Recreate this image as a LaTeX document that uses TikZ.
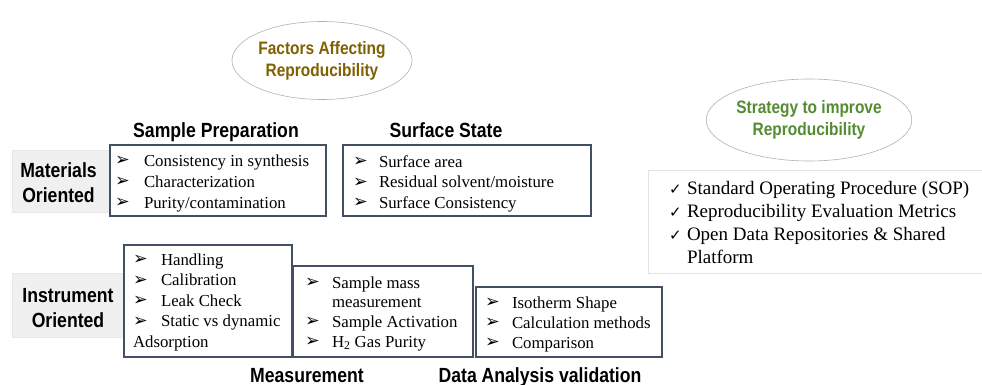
\documentclass[tikz,border=0pt]{standalone}
\usepackage{fontspec}
\setmainfont{Liberation Serif}
\newfontfamily\hsans{Liberation Sans}[FakeStretch=0.86]
\newfontfamily\djfont{DejaVu Sans}
\usetikzlibrary{shapes.geometric}
\definecolor{boxc}{RGB}{67,80,100}
\definecolor{goldtxt}{RGB}{128,96,0}
\definecolor{leaftxt}{RGB}{84,140,50}
\pgfdeclareradialshading{ellshade}{\pgfpoint{0bp}{0bp}}{color(0bp)=(white); color(30bp)=(white); color(50bp)=(gray!50)}
\newcommand\blt{\raisebox{0.5pt}{\djfont\fontsize{17.5}{17.5}\selectfont ➢}}
\newcommand\chk{{\djfont\fontsize{15}{15}\selectfont ✓}}
\begin{document}
\begin{tikzpicture}[x=1pt,y=-1pt,
  listbox/.style={draw=boxc, line width=1.1pt, fill=white, inner sep=0},
  graybox/.style={fill=gray!12, draw=gray!18, line width=0.5pt, inner sep=0},
  lbl/.style={font=\hsans\bfseries\fontsize{20.5}{25.5}\selectfont, align=center, inner sep=0},
  head/.style={font=\hsans\bfseries\fontsize{20.5}{24}\selectfont, anchor=base, inner sep=0},
  ellip/.style={ellipse, draw=gray!60, line width=0.6pt, shading=ellshade,
    inner sep=0, align=center, font=\hsans\bfseries\fontsize{18}{22}\selectfont},
  listtxt/.style={anchor=base west, inner sep=0, outer sep=0}
]
\useasboundingbox (0,0) rectangle (982,385);

% ellipses
\node[ellip, minimum width=172pt, minimum height=78pt, text=goldtxt] (factors) at (322,60.5)
  {Factors Affecting\\Reproducibility};
\node[ellip, minimum width=186pt, minimum height=82pt, text=leaftxt] (strategy) at (809,120)
  {Strategy to improve\\Reproducibility};

% headings
\node[head] (hsample) at (216,137) {Sample Preparation};
\node[head] (hsurface) at (446,137) {Surface State};
\node[head] (hmeas) at (307,382) {Measurement};
\node[head] (hdata) at (540,382) {Data Analysis validation};

% gray labels
\node[graybox, minimum width=100pt, minimum height=62pt] (matbox) at (62,181) {};
\node[lbl] (mattxt) at (58.5,182.6) {Materials\\Oriented};
\node[graybox, minimum width=112pt, minimum height=64pt] (instbox) at (68,305) {};
\node[lbl] (insttxt) at (68,308) {Instrument\\Oriented};

% boxes
\node[listbox, minimum width=216pt, minimum height=71pt] (samplebox) at (218,180.5) {};
\node[listtxt, font=\fontsize{16.8}{21.2}\selectfont] (samplelist) at (115,166)
  {\begin{tabular}[t]{@{}p{29pt}@{}l@{}}
   \blt & Consistency in synthesis\\
   \blt & Characterization\\
   \blt & Purity/contamination
   \end{tabular}};

\node[listbox, minimum width=248pt, minimum height=71pt] (surfbox) at (467,180.5) {};
\node[listtxt, font=\fontsize{16.8}{20.6}\selectfont] (surflist) at (353,167)
  {\begin{tabular}[t]{@{}p{26pt}@{}l@{}}
   \blt & Surface area\\
   \blt & Residual solvent/moisture\\
   \blt & Surface Consistency
   \end{tabular}};

\node[listbox, minimum width=168pt, minimum height=112pt] (handbox) at (208,301) {};
\node[listtxt, font=\fontsize{16.8}{20.5}\selectfont] (handlist) at (133,265)
  {\begin{tabular}[t]{@{}p{28pt}@{}l@{}}
   \blt & Handling\\
   \blt & Calibration\\
   \blt & Leak Check\\
   \blt & Static vs dynamic\\
   \multicolumn{2}{@{}l@{}}{Adsorption}
   \end{tabular}};

\node[listbox, minimum width=180pt, minimum height=91pt] (massbox) at (383,311.5) {};
\node[listtxt, font=\fontsize{16.8}{19.7}\selectfont] (masslist) at (305,288)
  {\begin{tabular}[t]{@{}p{27pt}@{}l@{}}
   \blt & Sample mass\\
        & measurement\\
   \blt & Sample Activation\\
   \blt & H\textsubscript{2} Gas Purity
   \end{tabular}};

\node[listbox, minimum width=186pt, minimum height=70pt] (isobox) at (569,322) {};
\node[listtxt, font=\fontsize{16.8}{20}\selectfont] (isolist) at (485,308)
  {\begin{tabular}[t]{@{}p{27pt}@{}l@{}}
   \blt & Isotherm Shape\\
   \blt & Calculation methods\\
   \blt & Comparison
   \end{tabular}};

% strategy box
\node[draw=gray!22, line width=0.8pt, fill=white, inner sep=0, minimum width=342pt, minimum height=103pt] (stratbox) at (819,221.5) {};
\node[listtxt, font=\fontsize{19}{23.3}\selectfont] (stratlist) at (669,194)
  {\begin{tabular}[t]{@{}p{18pt}@{}l@{}}
   \chk & Standard Operating Procedure (SOP)\\
   \chk & Reproducibility Evaluation Metrics\\
   \chk & Open Data Repositories \& Shared\\
        & Platform
   \end{tabular}};
\end{tikzpicture}
\end{document}
